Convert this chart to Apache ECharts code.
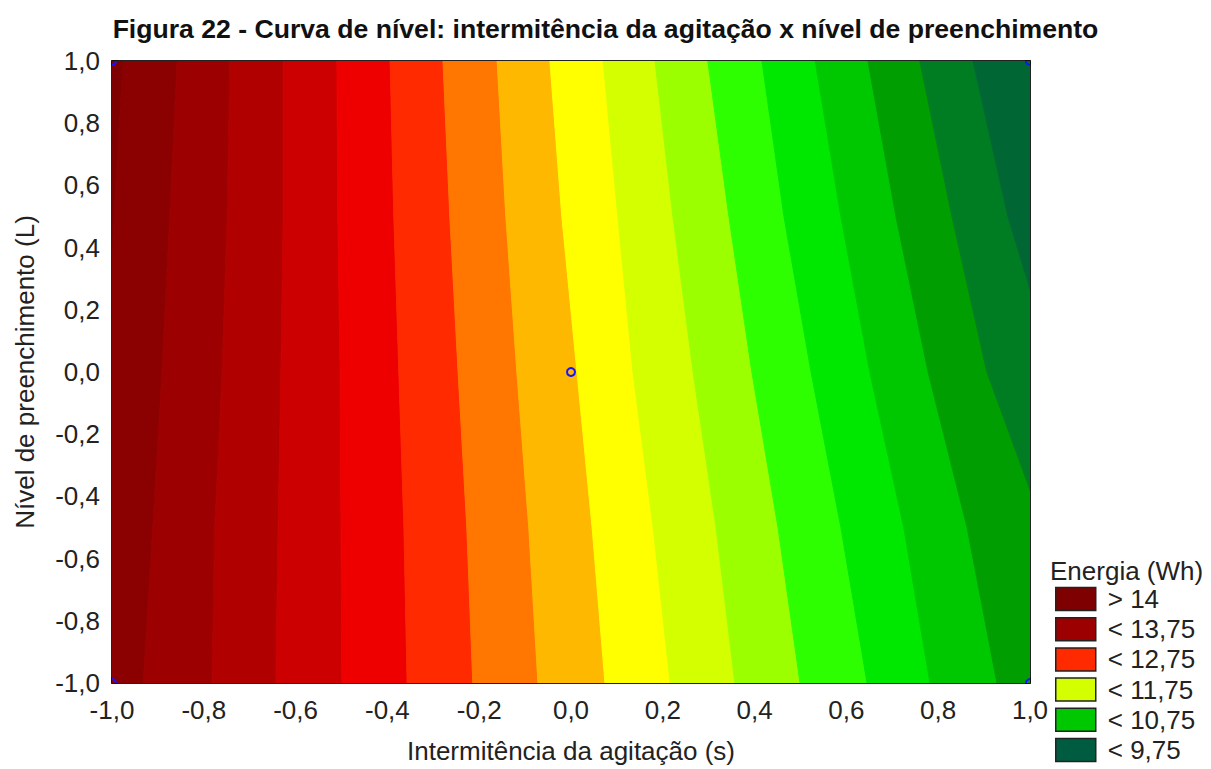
<!DOCTYPE html>
<html>
<head>
<meta charset="utf-8">
<script src="https://cdn.jsdelivr.net/npm/echarts@6/dist/echarts.min.js"></script>
<style>
html,body{margin:0;padding:0;background:#fff;}
#chart{width:1211px;height:769px;}
</style>
</head>
<body>
<div id="chart"></div>
<script>
// ---- Data ----
// y positions (Nível de preenchimento) at which each contour line was read
const yLevels = [1, 0.5, 0, -0.5, -1];
// contour levels (Energia, Wh)
const contourLevels = [14, 13.75, 13.5, 13.25, 13.0, 12.75, 12.5, 12.25, 12.0, 11.75, 11.5, 11.25, 11.0, 10.75, 10.5, 10.25, 10.0];
// x position (Intermitência) of each contour line at the yLevels above (values outside [-1,1] are estimated continuations)
const x_14_00 = [-0.976, -0.995, -1.013, -1.030, -1.050];
const x_13_75 = [-0.858, -0.874, -0.891, -0.911, -0.932];
const x_13_50 = [-0.743, -0.749, -0.760, -0.776, -0.782];
const x_13_25 = [-0.627, -0.627, -0.632, -0.638, -0.643];
const x_13_00 = [-0.510, -0.508, -0.503, -0.501, -0.499];
const x_12_75 = [-0.394, -0.386, -0.375, -0.364, -0.357];
const x_12_50 = [-0.279, -0.264, -0.246, -0.227, -0.214];
const x_12_25 = [-0.161, -0.142, -0.118, -0.092, -0.072];
const x_12_00 = [-0.046, -0.020, 0.013, 0.046, 0.074];
const x_11_75 = [0.070, 0.102, 0.135, 0.179, 0.216];
const x_11_50 = [0.183, 0.222, 0.266, 0.316, 0.357];
const x_11_25 = [0.298, 0.344, 0.394, 0.451, 0.499];
const x_11_00 = [0.416, 0.464, 0.523, 0.588, 0.645];
const x_10_75 = [0.532, 0.588, 0.651, 0.725, 0.782];
const x_10_50 = [0.647, 0.708, 0.778, 0.863, 0.928];
const x_10_25 = [0.760, 0.830, 0.906, 1.030, 1.100];
const x_10_00 = [0.876, 0.952, 1.055, 1.150, 1.230];
const contourLines = [x_14_00, x_13_75, x_13_50, x_13_25, x_13_00, x_12_75, x_12_50, x_12_25, x_12_00,
                      x_11_75, x_11_50, x_11_25, x_11_00, x_10_75, x_10_50, x_10_25, x_10_00];
// band names (one band between each pair of contour lines)
const bandNames = ['> 14', '< 14', '< 13,75', '< 13,5', '< 13,25', '< 13', '< 12,75', '< 12,5', '< 12,25', '< 12',
                   '< 11,75', '< 11,5', '< 11,25', '< 11', '< 10,75', '< 10,5', '< 10,25', '< 10', '< 9,75'];
const legendNames = ['> 14', '< 13,75', '< 12,75', '< 11,75', '< 10,75', '< 9,75'];
// experimental design points
const designPoints = [[-1, 1], [1, 1], [-1, -1], [1, -1], [0, 0]];
const xTicks = [-1, -0.8, -0.6, -0.4, -0.2, 0, 0.2, 0.4, 0.6, 0.8, 1];

// ---- Styles ----
const bandColors = ['#7f0000', '#8b0000', '#9c0000', '#b00000', '#cc0000', '#ee0000', '#ff2a00', '#ff7700', '#ffb800', '#ffff00',
                    '#d4ff00', '#9cff00', '#2eff00', '#00e800', '#00c800', '#009e00', '#007d22', '#006633', '#005c40'];
const FONT = "'Liberation Sans', Arial, sans-serif";
const FS = 26;
const fmt = v => (Math.abs(v) < 1e-9 ? 0 : v).toFixed(1).replace('.', ',');

const chart = echarts.init(document.getElementById('chart'), null, {renderer: 'svg'});

const farLeft = yLevels.map(() => -1.6);
const farRight = yLevels.map(() => 1.6);

function bandSeries(i) {
  let left = null, right = null;
  if (i === 0) { left = farLeft; right = contourLines[0]; }
  else if (i < contourLines.length) { left = contourLines[i - 1]; right = contourLines[i]; }
  else if (i === contourLines.length) { left = contourLines[i - 1]; right = farRight; }
  const color = bandColors[i];
  return {
    type: 'custom',
    name: bandNames[i],
    coordinateSystem: 'cartesian2d',
    xAxisIndex: 0, yAxisIndex: 0,
    clip: true,
    silent: true,
    z: 1,
    itemStyle: {color: color},
    data: left ? [0] : [],
    renderItem: function (params, api) {
      const pts = [];
      for (let k = 0; k < yLevels.length; k++) pts.push(api.coord([left[k], yLevels[k]]));
      for (let k = yLevels.length - 1; k >= 0; k--) pts.push(api.coord([right[k], yLevels[k]]));
      return {type: 'polygon', shape: {points: pts}, style: {fill: color, stroke: color, lineWidth: 1}};
    }
  };
}

const series = [];
for (let i = 0; i < bandNames.length; i++) series.push(bandSeries(i));
// design points, clipped to the plot area like in the reference
series.push({
  type: 'custom', name: 'pontos', coordinateSystem: 'cartesian2d',
  xAxisIndex: 0, yAxisIndex: 0, z: 5, clip: true, silent: true,
  data: designPoints,
  renderItem: function (params, api) {
    const p = api.coord([api.value(0), api.value(1)]);
    return {type: 'circle', shape: {cx: p[0], cy: p[1], r: 4}, style: {fill: 'none', stroke: '#1414ff', lineWidth: 2}};
  }
});

const axisLineStyle = {color: '#222', width: 2};
const option = {
  animation: false,
  backgroundColor: '#fff',
  textStyle: {fontFamily: FONT},
  title: [
    {text: 'Figura 22 - Curva de nível: intermitência da agitação x nível de preenchimento',
     left: 'center', top: 10,
     textStyle: {fontFamily: FONT, fontSize: 26.6, fontWeight: 'bold', color: '#111'}},
    {text: 'Energia (Wh)', left: 1050, top: 558, padding: 0,
     textStyle: {fontFamily: FONT, fontSize: FS, fontWeight: 'normal', color: '#222'}}
  ],
  legend: {
    orient: 'vertical', left: 1055, top: 586, height: 200, padding: 0,
    data: legendNames,
    icon: 'rect', itemWidth: 40, itemHeight: 23, itemGap: 4.2,
    selectedMode: false,
    itemStyle: {borderColor: '#222', borderWidth: 1.5},
    textStyle: {fontFamily: FONT, fontSize: FS, color: '#222', padding: [0, 0, 0, 7]}
  },
  grid: {left: 112, right: 181, top: 61, bottom: 84, containLabel: false},
  xAxis: [
    {type: 'value', position: 'bottom', min: -1, max: 1, interval: 0.2,
     name: 'Intermitência da agitação (s)', nameLocation: 'middle', nameGap: 55,
     nameTextStyle: {fontFamily: FONT, fontSize: FS, color: '#222'},
     axisLine: {show: true, onZero: false, lineStyle: axisLineStyle},
     axisTick: {show: true, inside: true, length: 6, lineStyle: {color: '#111', width: 2}},
     minorTick: {show: true, splitNumber: 2, length: 4, lineStyle: {color: '#111', width: 1.5}},
     splitLine: {show: false},
     axisLabel: {margin: 14, fontFamily: FONT, fontSize: FS, color: '#222', formatter: fmt,
                 customValues: xTicks}
    },
    {type: 'value', position: 'top', min: 0, max: 12, interval: 1,
     axisLine: {show: true, onZero: false, lineStyle: axisLineStyle},
     axisTick: {show: true, inside: true, length: 5, lineStyle: {color: '#111', width: 2}},
     minorTick: {show: true, splitNumber: 2, length: 3, lineStyle: {color: '#111', width: 1.5}},
     splitLine: {show: false}, axisLabel: {show: false}
    }
  ],
  yAxis: [
    {type: 'value', position: 'left', min: -1, max: 1, interval: 0.2,
     name: 'Nível de preenchimento (L)', nameLocation: 'middle', nameGap: 74,
     nameTextStyle: {fontFamily: FONT, fontSize: FS, color: '#222'},
     axisLine: {show: true, onZero: false, lineStyle: axisLineStyle},
     axisTick: {show: true, inside: true, length: 6, lineStyle: {color: '#111', width: 2}},
     minorTick: {show: true, splitNumber: 2, length: 4, lineStyle: {color: '#111', width: 1.5}},
     splitLine: {show: false},
     axisLabel: {margin: 12, fontFamily: FONT, fontSize: FS, color: '#222', formatter: fmt}
    },
    {type: 'value', position: 'right', min: 0, max: 12, interval: 1,
     axisLine: {show: true, onZero: false, lineStyle: axisLineStyle},
     axisTick: {show: true, inside: true, length: 5, lineStyle: {color: '#111', width: 2}},
     minorTick: {show: true, splitNumber: 2, length: 3, lineStyle: {color: '#111', width: 1.5}},
     splitLine: {show: false}, axisLabel: {show: false}
    }
  ],
  series: series
};
chart.setOption(option);
</script>
</body>
</html>
